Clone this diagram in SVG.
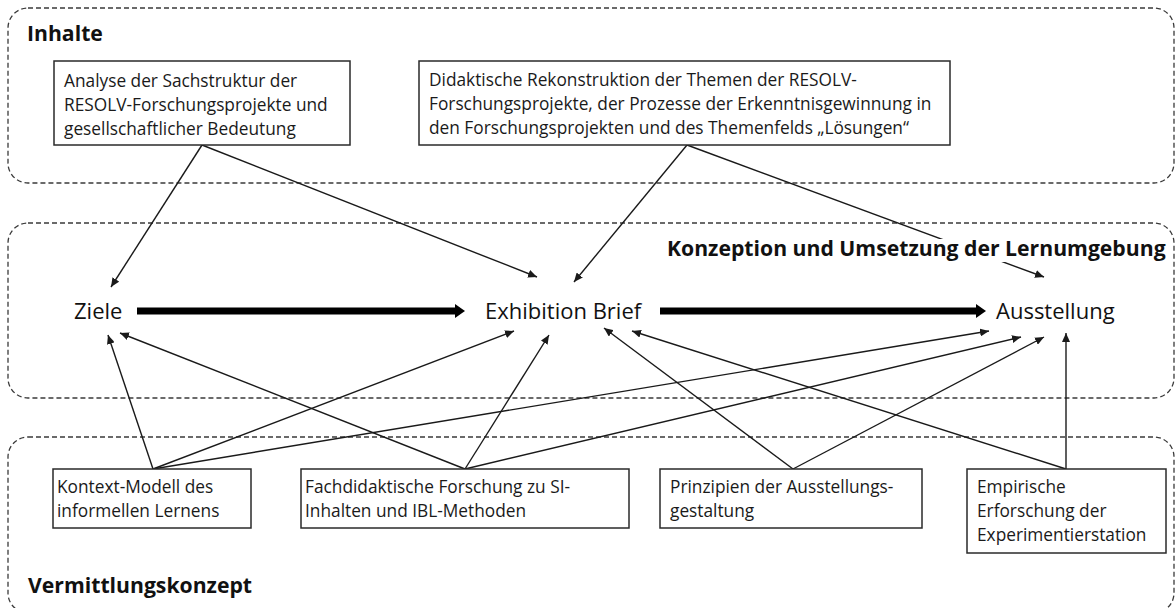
<svg xmlns="http://www.w3.org/2000/svg" width="1176" height="608" viewBox="0 0 1176 608">
<style>
.zone{fill:none;stroke:#3a3a3a;stroke-width:1.3;stroke-dasharray:5 3}
.box{fill:#fff;stroke:#2a2a2a;stroke-width:1.5}
.t{font-family:"Open Sans","Liberation Sans",sans-serif;font-size:17.3px;fill:#1a1a1a}
.n{font-family:"Open Sans","Liberation Sans",sans-serif;font-size:22px;fill:#111}
.h{font-family:"Open Sans","Liberation Sans",sans-serif;font-size:21.2px;font-weight:bold;fill:#111}
.c{stroke:#1a1a1a;stroke-width:1.4;fill:none;marker-end:url(#arr)}
.k{stroke:#000;stroke-width:7;fill:none;marker-end:url(#big)}
</style>
<defs>
<marker id="arr" markerUnits="userSpaceOnUse" markerWidth="10" markerHeight="8" refX="9" refY="4" orient="auto">
<path d="M0,0 L9,4 L0,8 z" fill="#1a1a1a"/>
</marker>
<marker id="big" markerUnits="userSpaceOnUse" markerWidth="11" markerHeight="14" refX="0" refY="7" orient="auto">
<path d="M0,0 L10,7 L0,14 z" fill="#000"/>
</marker>
</defs>
<rect width="1176" height="608" fill="#fff"/>
<g id="zones">
<rect class="zone" x="8" y="8" width="1166" height="175" rx="20"/>
<rect class="zone" x="8" y="223" width="1166" height="175" rx="20"/>
<rect class="zone" x="8" y="437" width="1166" height="176" rx="20"/>
</g>
<g id="connectors">
<line class="c" x1="202" y1="145" x2="111" y2="287"/>
<line class="c" x1="202" y1="145" x2="537" y2="277"/>
<line class="c" x1="687" y1="145" x2="574" y2="282"/>
<line class="c" x1="687" y1="145" x2="1044" y2="277"/>
<line class="c" x1="153" y1="469" x2="108" y2="335"/>
<line class="c" x1="153" y1="469" x2="514" y2="331"/>
<line class="c" x1="153" y1="469" x2="989" y2="331"/>
<line class="c" x1="465" y1="469" x2="120" y2="333"/>
<line class="c" x1="465" y1="469" x2="549" y2="335"/>
<line class="c" x1="465" y1="469" x2="1021" y2="337"/>
<line class="c" x1="793" y1="469" x2="604" y2="328"/>
<line class="c" x1="793" y1="469" x2="1044" y2="337"/>
<line class="c" x1="1066" y1="469" x2="632" y2="331"/>
<line class="c" x1="1066" y1="469" x2="1066" y2="333"/>
<line class="k" x1="137" y1="311" x2="455" y2="311"/>
<line class="k" x1="660" y1="311" x2="976" y2="311"/>
</g>
<g id="title-inhalte"><text class="h" x="27" y="41">Inhalte</text></g>
<g id="title-konzeption">
<rect x="664" y="239" width="506" height="23" fill="#fff"/>
<text class="h" x="667" y="256">Konzeption und Umsetzung der Lernumgebung</text>
</g>
<g id="title-vermittlung"><text class="h" x="28" y="593">Vermittlungskonzept</text></g>
<g id="analyse">
<rect class="box" x="54" y="61" width="296" height="84"/>
<text class="t" x="64" y="87">Analyse der Sachstruktur der</text>
<text class="t" x="64" y="111">RESOLV-Forschungsprojekte und</text>
<text class="t" x="64" y="135">gesellschaftlicher Bedeutung</text>
</g>
<g id="didaktische">
<rect class="box" x="419" y="61" width="531" height="84"/>
<text class="t" x="429" y="86">Didaktische Rekonstruktion der Themen der RESOLV-</text>
<text class="t" x="429" y="110">Forschungsprojekte, der Prozesse der Erkenntnisgewinnung in</text>
<text class="t" x="429" y="134">den Forschungsprojekten und des Themenfelds „Lösungen“</text>
</g>
<g id="ziele"><text class="n" x="74" y="319">Ziele</text></g>
<g id="exhibition"><text class="n" x="485" y="319">Exhibition Brief</text></g>
<g id="ausstellung"><text class="n" x="996" y="319">Ausstellung</text></g>
<g id="kontext">
<rect class="box" x="53" y="469" width="198" height="59"/>
<text class="t" x="57" y="493">Kontext-Modell des</text>
<text class="t" x="57" y="517">informellen Lernens</text>
</g>
<g id="fachdidaktik">
<rect class="box" x="301" y="469" width="328" height="59"/>
<text class="t" x="305" y="493">Fachdidaktische Forschung zu SI-</text>
<text class="t" x="305" y="517">Inhalten und IBL-Methoden</text>
</g>
<g id="prinzipien">
<rect class="box" x="660" y="469" width="262" height="59"/>
<text class="t" x="670" y="493">Prinzipien der Ausstellungs-</text>
<text class="t" x="670" y="517">gestaltung</text>
</g>
<g id="empirische">
<rect class="box" x="967" y="469" width="199" height="84"/>
<text class="t" x="977" y="493">Empirische</text>
<text class="t" x="977" y="517">Erforschung der</text>
<text class="t" x="977" y="541">Experimentierstation</text>
</g>
</svg>
